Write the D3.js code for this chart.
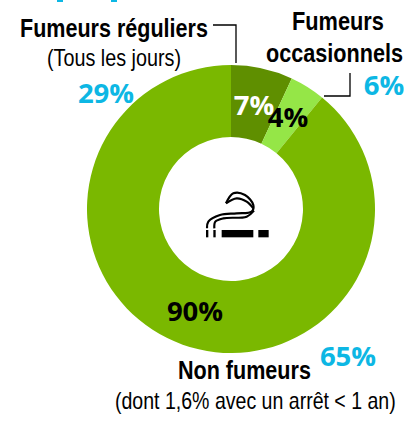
<!DOCTYPE html>
<html><head><meta charset="utf-8">
<script src="https://cdn.jsdelivr.net/npm/d3@7/dist/d3.min.js"></script>
<style>html,body{margin:0;padding:0;background:#fff}svg{display:block}</style></head>
<body><div id="c"></div>
<script>
const categories = ["Fumeurs réguliers","Fumeurs occasionnels","Non fumeurs"];
const values = [7,4,90];
const valueLabels = ["7%","4%","90%"];
const colors = ["#5f8f00","#95e647","#7ab800"];
const labelColors = ["#fff","#000","#000"];
const W=404,H=423,cx=231,cy=209,R=144,r=72;
const svg=d3.select("#c").append("svg").attr("width",W).attr("height",H);
const pie=d3.pie().sort(null).value(d=>d)(values);
const arc=d3.arc().innerRadius(r).outerRadius(R);
const g=svg.append("g").attr("transform",`translate(${cx},${cy})`);
g.selectAll("path").data(pie).join("path").attr("d",arc).attr("fill",(d,i)=>colors[i]);
const pctFont="'Open Sans',sans-serif", nar="'Liberation Sans',sans-serif";
function t(x,y,s,o={}){const e=svg.append("text").text(s)
 .attr("font-family",o.f||nar).attr("font-size",o.s||25).attr("font-weight",o.w||"normal")
 .attr("fill",o.c||"#000").attr("text-anchor",o.a||"start");
 const k=o.l?o.l/e.node().getComputedTextLength():1;
 e.attr("transform",`translate(${x},${y}) scale(${k},1)`);return e;}
const pos=[[254,115],[288,127],[195,321]];
valueLabels.forEach((s,i)=>t(pos[i][0],pos[i][1],s,{f:pctFont,s:27.5,w:"bold",c:labelColors[i],a:"middle"}));
t(20,37,categories[0],{w:"bold",l:188});
t(47,66,"(Tous les jours)",{s:23,l:134});
t(292,30,"Fumeurs",{w:"bold",l:92});
t(266,62,"occasionnels",{w:"bold",l:137});
t(178,379,categories[2],{w:"bold",l:133});
t(115,409,"(dont 1,6% avec un arrêt < 1 an)",{s:23,l:281});
const cyan="#0db7e4";
t(106,103,"29%",{f:pctFont,s:27.5,w:"bold",c:cyan,a:"middle"});
t(384,95,"6%",{f:pctFont,s:27.5,w:"bold",c:cyan,a:"middle"});
t(348,366,"65%",{f:pctFont,s:27.5,w:"bold",c:cyan,a:"middle"});
[[57,6],[111,6]].forEach(([x,w])=>svg.append("rect").attr("x",x).attr("y",0).attr("width",w).attr("height",2).attr("fill",cyan));
const line=d3.line();
svg.append("path").attr("d",line([[213,25],[236,25],[236,63]])).attr("fill","none").attr("stroke","#000").attr("stroke-width",1.3);
svg.append("path").attr("d",line([[350,73],[350,96],[324,96]])).attr("fill","none").attr("stroke","#000").attr("stroke-width",1.3);
// cigarette icon (drawn in 3x crop units)
const ic=svg.append("g").attr("transform","translate(190,180) scale(0.3333)");
[[95,95],[205,31],[48,7],[70,7]].forEach(([x,w])=>ic.append("rect").attr("x",x).attr("y",150).attr("width",w).attr("height",22).attr("fill","#000"));
const sm=d3.line().curve(d3.curveCatmullRom);
[[[51,145],[55,125],[90,105],[140,100],[185,95],[190,75],[165,45],[130,40],[108,70]],
 [[73,145],[76,125],[100,115],[170,110],[192,92]],
 [[108,70],[140,55],[170,65],[190,85]]].forEach(p=>
 ic.append("path").attr("d",sm(p)).attr("fill","none").attr("stroke","#000").attr("stroke-width",6.5));
</script></body></html>
